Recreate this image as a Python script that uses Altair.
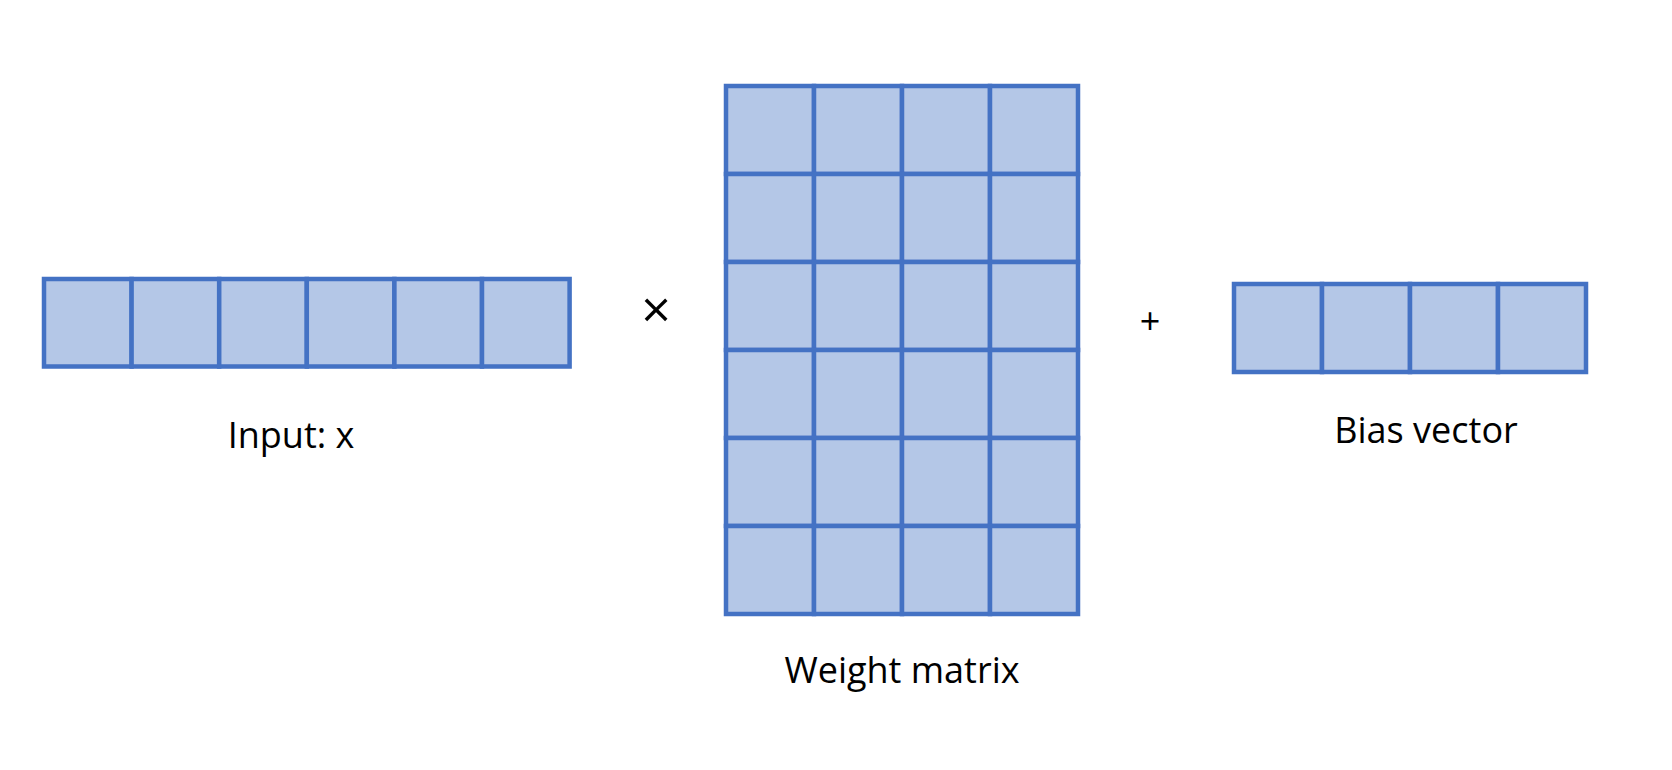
import altair as alt
import pandas as pd

# blocks: name, left, top, cell size, rows, cols
block_names = ["input", "weight", "bias"]
block_left = [44, 726, 1234]
block_top = [279, 86, 284]
block_cell = [87.6, 88.0, 88.0]
block_rows = [1, 6, 1]
block_cols = [6, 4, 4]

labels = ["Input: x", "Weight matrix", "Bias vector", "×", "+"]
label_x = [291, 902, 1426, 656, 1150]
label_y = [437, 672, 432, 312, 323]
label_size = [36, 36, 36, 52, 36]
label_weight = ["normal", "normal", "normal", "lighter", "normal"]

cells = []
for n, l, t, c, R, C in zip(block_names, block_left, block_top, block_cell, block_rows, block_cols):
    for r in range(R):
        for k in range(C):
            cells.append(dict(block=n, x=l + k * c, x2=l + (k + 1) * c, y=t + r * c, y2=t + (r + 1) * c))
cdf = pd.DataFrame(cells)
tdf = pd.DataFrame(dict(t=labels, x=label_x, y=label_y, s=label_size))

xs = alt.Scale(domain=[8, 1664], nice=False, zero=False)
ys = alt.Scale(domain=[8, 762], nice=False, zero=False, reverse=True)

rects = alt.Chart(cdf).mark_rect(fill="#B4C7E7", stroke="#4472C4", strokeWidth=4.5).encode(
    x=alt.X("x:Q", scale=xs, axis=None), x2="x2", y=alt.Y("y:Q", scale=ys, axis=None), y2="y2")

texts = alt.Chart(tdf).mark_text(font="Open Sans", color="black", baseline="middle", align="center").encode(
    x=alt.X("x:Q", scale=xs, axis=None), y=alt.Y("y:Q", scale=ys, axis=None),
    text="t:N", size=alt.Size("s:Q", scale=None, legend=None))

chart = (rects + texts).properties(width=1656, height=754, padding=0, autosize="none").configure_view(stroke=None)
chart.save("out.html", embed_options={"renderer": "svg", "actions": False})
